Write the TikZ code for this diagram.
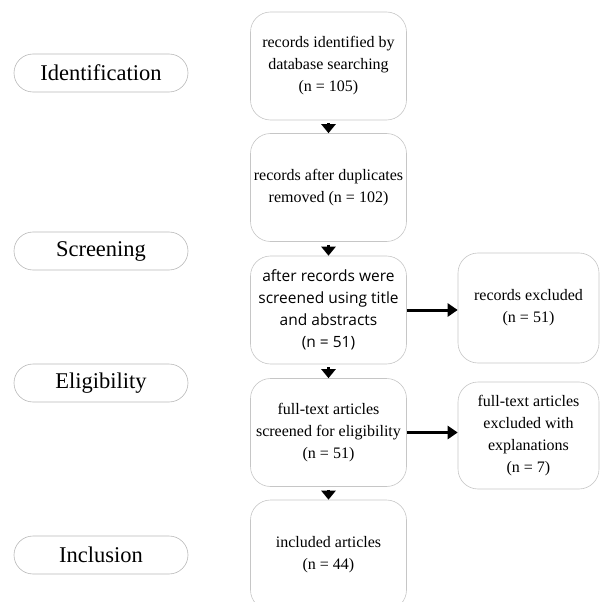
\documentclass[tikz,border=0pt]{standalone}
\usepackage{fontspec}
\setmainfont{Liberation Serif}
\newfontfamily\canvafont{Open Sans}
\usetikzlibrary{positioning,arrows.meta}

\begin{document}
\begin{tikzpicture}[
  x=1pt, y=-1pt,
  >={Triangle[width=14pt,length=9pt]},
  stagebox/.style={draw=gray!55, line width=0.6pt, rounded corners=19pt,
    minimum width=174pt, minimum height=38pt, inner sep=0pt,
    font=\fontsize{22.5}{24}\selectfont},
  flowbox/.style={draw=gray!45, line width=0.6pt, rounded corners=20pt,
    minimum width=156pt, minimum height=108pt, inner sep=2pt, align=center,
    font=\fontsize{16}{22}\selectfont},
  sidebox/.style={flowbox, minimum width=141pt},
  downarrow/.style={->, line width=3pt, shorten <=3pt},
  sidearrow/.style={->, line width=3pt, >={Triangle[width=13pt,length=10pt]}},
]
  \useasboundingbox (0,0) rectangle (606,602);

  % Stage labels
  \node[stagebox] (ident) at (101,73) {Identification};
  \node[stagebox] (screen) at (101,251) {Screening};
  \node[stagebox] (elig) at (101,383) {Eligibility};
  \node[stagebox] (incl) at (101,555) {Inclusion};

  % Main flow
  \node[flowbox] (found) at (328.5,66) {records identified by\\database searching\\(n = 105)};
  \node[flowbox] (dedup) at (328.5,187.5) {records after duplicates\\removed (n = 102)};
  \node[flowbox, font=\canvafont\fontsize{15.5}{22}\selectfont] (title) at (328.5,310)
    {after records were\\screened using title\\and abstracts\\(n = 51)};
  \node[flowbox] (full) at (328.5,432.5) {full-text articles\\screened for eligibility\\(n = 51)};
  \node[flowbox, minimum height=110pt] (final) at (328.5,555) {included articles\\(n = 44)};

  % Exclusions
  \node[sidebox, minimum height=110pt] (excl) at (528.5,308) {records excluded\\(n = 51)};
  \node[sidebox, minimum height=107pt] (exclfull) at (528.5,435.5)
    {full-text articles\\excluded with\\explanations\\(n = 7)};

  % Arrows
  \draw[downarrow] (found) -- (dedup);
  \draw[downarrow] (dedup) -- (title);
  \draw[downarrow] (title) -- (full);
  \draw[downarrow] (full) -- (final);
  \draw[sidearrow] (title.east) -- (title.east -| excl.west);
  \draw[sidearrow] (full.east) -- (full.east -| exclfull.west);

\end{tikzpicture}
\end{document}
